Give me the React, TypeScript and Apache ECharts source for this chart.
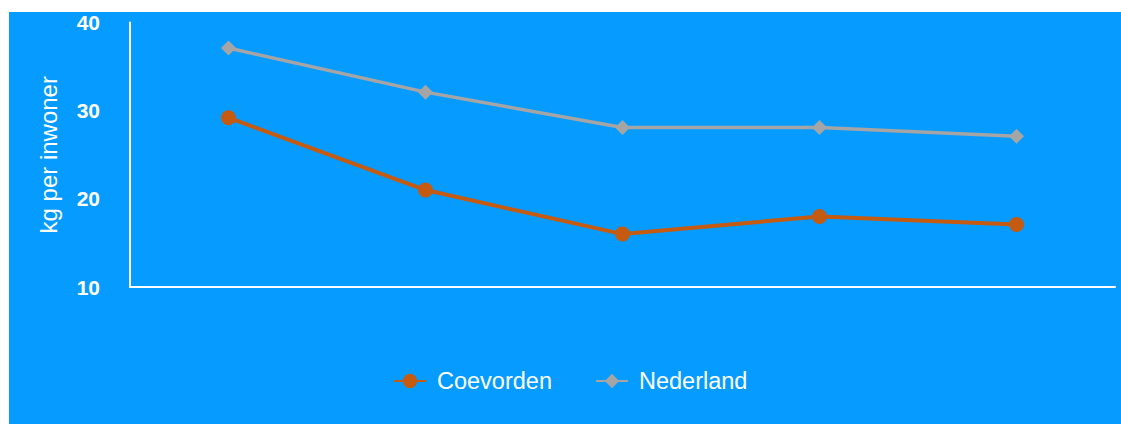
import React, { useEffect, useRef } from "react";
import * as echarts from "echarts";

// Five periods along the x axis (labels are not shown on the axis)
const periods = ["1", "2", "3", "4", "5"];

// Household waste, kg per inhabitant
const coevorden = [29.2, 21.0, 16.0, 18.0, 17.1];
const nederland = [37.1, 32.1, 28.1, 28.1, 27.1];

const yTicks = { min: 10, max: 40, interval: 10 };

const ORANGE = "#C55A11";
const GREY = "#A5A5A5";
const BLUE = "#059BFF";
const WHITE = "#FFFFFF";
const FONT = "'Liberation Sans', Arial, sans-serif";

export default function App() {
  const ref = useRef<HTMLDivElement>(null);

  useEffect(() => {
    document.body.style.margin = "0";
    if (!ref.current) return;
    const chart = echarts.init(ref.current, null, { renderer: "svg" });
    chart.setOption({
      animation: false,
      backgroundColor: BLUE,
      textStyle: { fontFamily: FONT },
      grid: { left: 121, right: 6, top: 10, bottom: 137, containLabel: false },
      legend: {
        data: ["Coevorden", "Nederland"],
        left: 379,
        top: 352,
        itemWidth: 32,
        itemHeight: 18,
        itemGap: 43,
        textStyle: {
          color: WHITE,
          fontSize: 23.5,
          fontFamily: FONT,
          padding: [0, 0, 0, 6],
        },
      },
      xAxis: {
        type: "category",
        data: periods,
        boundaryGap: true,
        axisLine: { show: true, lineStyle: { color: WHITE, width: 2 } },
        axisTick: { show: false },
        axisLabel: { show: false },
        splitLine: { show: false },
      },
      yAxis: {
        type: "value",
        min: yTicks.min,
        max: yTicks.max,
        interval: yTicks.interval,
        name: "kg per inwoner",
        nameLocation: "middle",
        nameGap: 70,
        nameTextStyle: { color: WHITE, fontSize: 24, fontFamily: FONT },
        axisLine: { show: true, lineStyle: { color: WHITE, width: 2 } },
        axisTick: { show: false },
        splitLine: { show: false },
        axisLabel: {
          color: WHITE,
          fontSize: 21,
          fontWeight: "bold",
          fontFamily: FONT,
          margin: 30,
        },
      },
      series: [
        {
          name: "Coevorden",
          type: "line",
          data: coevorden,
          symbol: "circle",
          symbolSize: 15,
          itemStyle: { color: ORANGE },
          lineStyle: { color: ORANGE, width: 4 },
        },
        {
          name: "Nederland",
          type: "line",
          data: nederland,
          symbol: "diamond",
          symbolSize: 15,
          itemStyle: { color: GREY },
          lineStyle: { color: GREY, width: 3.5 },
        },
      ],
    });
    return () => chart.dispose();
  }, []);

  return (
    <div
      ref={ref}
      style={{ position: "absolute", left: 9, top: 12, width: 1112, height: 412 }}
    />
  );
}
